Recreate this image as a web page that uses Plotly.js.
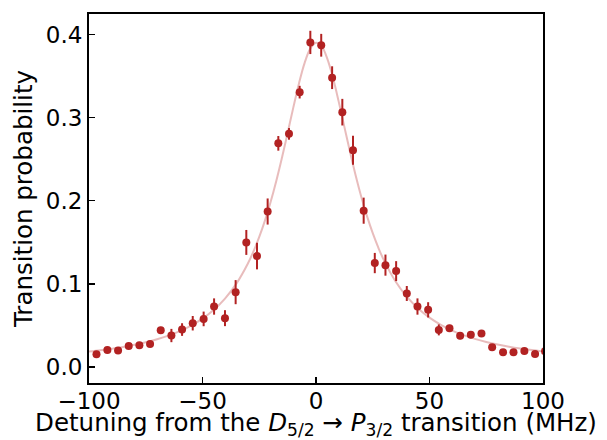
<!DOCTYPE html>
<html>
<head>
<meta charset="utf-8">
<script src="https://cdn.plot.ly/plotly-3.0.1.min.js"></script>
<style>html,body{margin:0;padding:0;background:#fff;}#chart{width:607px;height:440px;}</style>
</head>
<body>
<div id="chart"></div>
<script>
// Measured data points (detuning in MHz, transition probability, error)
var detuning = [-96.7,-91.9,-87.2,-82.5,-77.8,-73.1,-68.4,-63.7,-59.0,-54.3,-49.5,-44.9,-40.1,-35.4,-30.7,-26.0,-21.3,-16.6,-11.9,-7.2,-2.5,2.3,7.1,11.6,16.3,21.0,25.9,30.6,35.3,40.0,44.7,49.4,54.1,58.8,63.5,68.2,72.9,77.6,82.4,87.0,91.8,96.5,100.9];
var probability = [0.0153,0.0205,0.0197,0.0253,0.0261,0.0277,0.0442,0.0378,0.045,0.0526,0.0578,0.0727,0.0587,0.090,0.1498,0.1334,0.187,0.269,0.2804,0.3306,0.3904,0.387,0.348,0.3065,0.2607,0.188,0.125,0.1225,0.1153,0.0884,0.0727,0.0687,0.0446,0.0466,0.0374,0.0386,0.0402,0.0237,0.0177,0.0177,0.0193,0.0157,0.019];
var errors = [0.003,0.003,0.003,0.003,0.003,0.003,0.004,0.008,0.0076,0.0087,0.0088,0.0098,0.0096,0.0145,0.015,0.016,0.0157,0.0088,0.007,0.0076,0.014,0.0137,0.0137,0.016,0.0175,0.0157,0.0122,0.0127,0.012,0.009,0.0098,0.0092,0.0066,0.004,0.004,0.004,0.004,0.003,0.003,0.003,0.003,0.003,0.003];

// Fit curve
var fitX = [-100,-95,-90,-85,-80,-75,-70,-65,-60,-55,-50,-45,-40,-35,-30,-27.5,-25,-22.5,-20,-17.5,-15,-12.5,-10,-7.5,-5,-2.5,0,2.5,5,7.5,10,12.5,15,17.5,20,22.5,25,27.5,30,35,40,45,50,55,60,65,70,75,80,85,90,95,100];
var fitY = [0.0185,0.0201,0.0220,0.0241,0.0267,0.0297,0.0333,0.0377,0.0431,0.0498,0.0581,0.0688,0.0826,0.1006,0.1245,0.1393,0.1564,0.1760,0.1984,0.2237,0.2516,0.2815,0.3120,0.3411,0.3658,0.3829,0.3899,0.3856,0.3707,0.3475,0.3192,0.2888,0.2586,0.2301,0.2042,0.1811,0.1609,0.1432,0.1279,0.1031,0.0845,0.0703,0.0593,0.0507,0.0438,0.0383,0.0338,0.0301,0.0270,0.0244,0.0222,0.0203,0.0187];

var xTicks = [-100,-50,0,50,100];
var xTickText = ['\u2212100','\u221250','0','50','100'];
var yTicks = [0.0,0.1,0.2,0.3,0.4];
var yTickText = ['0.0','0.1','0.2','0.3','0.4'];

var traces = [
  {
    x: fitX, y: fitY, type: 'scatter', mode: 'lines',
    line: {color: 'rgba(178,34,34,0.3)', width: 2, shape: 'spline'},
    hoverinfo: 'skip', showlegend: false
  },
  {
    x: detuning, y: probability, type: 'scatter', mode: 'markers',
    marker: {color: '#b22222', size: 8},
    error_y: {type: 'data', array: errors, visible: true, color: '#b22222', thickness: 2, width: 0},
    showlegend: false
  }
];

var tickFont = {family: 'DejaVu Sans, sans-serif', size: 23, color: '#000'};
var titleFont = {family: 'DejaVu Sans, sans-serif', size: 24.5, color: '#000'};

var layout = {
  width: 607, height: 440,
  margin: {l: 89, r: 64, t: 14, b: 57},
  paper_bgcolor: '#fff', plot_bgcolor: '#fff',
  font: tickFont,
  xaxis: {
    range: [-100, 100], tickvals: xTicks, ticktext: xTickText,
    ticks: 'inside', ticklen: 6, tickwidth: 1.5, tickcolor: '#000',
    showline: true, linecolor: '#000', linewidth: 2, mirror: true,
    showgrid: false, zeroline: false, tickfont: tickFont, ticklabelstandoff: -4,
    title: {text: 'Detuning from the <i>D</i><sub>5/2</sub> \u2192 <i>P</i><sub>3/2</sub> transition (MHz)', font: titleFont, standoff: 10}
  },
  yaxis: {
    range: [-0.0193, 0.4246], tickvals: yTicks, ticktext: yTickText,
    ticks: 'inside', ticklen: 6, tickwidth: 1.5, tickcolor: '#000',
    showline: true, linecolor: '#000', linewidth: 2, mirror: true,
    showgrid: false, zeroline: false, tickfont: tickFont,
    title: {text: 'Transition probability', font: titleFont, standoff: 6}
  }
};

Plotly.newPlot('chart', traces, layout, {staticPlot: true, displayModeBar: false});
</script>
</body>
</html>
